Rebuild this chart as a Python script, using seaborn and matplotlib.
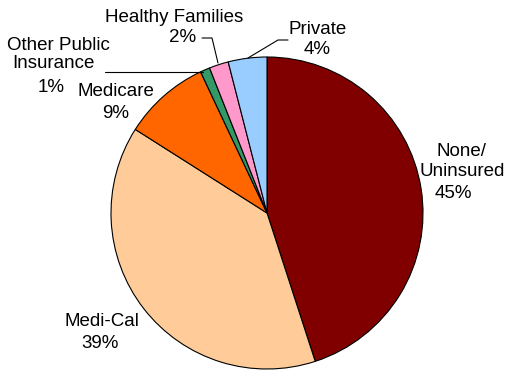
import matplotlib
matplotlib.use("Agg")
import matplotlib.pyplot as plt
import seaborn as sns

categories = ["None/\nUninsured", "Medi-Cal", "Medicare", "Other Public\nInsurance",
              "Healthy Families", "Private"]
values = [45, 39, 9, 1, 2, 4]
pct_labels = ["45%", "39%", "9%", "1%", "2%", "4%"]
colors = ["#800000", "#FFCC99", "#FF6600", "#339966", "#FF99CC", "#99CCFF"]

sns.set_style("white")
plt.rcParams['font.family'] = ['Liberation Sans', 'DejaVu Sans']

W, H = 508, 372
fig = plt.figure(figsize=(W / 100, H / 100), dpi=100)
ax = fig.add_axes([0, 0, 1, 1])
ax.set_xlim(0, W)
ax.set_ylim(0, H)
ax.set_aspect('equal')
ax.axis('off')

def Y(y):
    return H - y

palette = sns.color_palette(colors)
ax.pie(values, colors=palette, startangle=90, counterclock=False,
       center=(267, Y(213)), radius=156, frame=True,
       wedgeprops=dict(edgecolor='black', linewidth=0.8))
ax.set_xlim(0, W)
ax.set_ylim(0, H)
ax.axis('off')

fs = 13.5
kw = dict(fontsize=fs, color='black', ha='center', va='center', linespacing=1.05)

# None/Uninsured
ax.text(461, Y(151), "None/", **kw)
ax.text(462, Y(172), "Uninsured", **kw)
ax.text(453, Y(193), pct_labels[0], **kw)
# Medi-Cal
ax.text(102, Y(322), "Medi-Cal", **kw)
ax.text(100, Y(343), pct_labels[1], **kw)
# Medicare
ax.text(116, Y(92), "Medicare", **kw)
ax.text(116, Y(114), pct_labels[2], **kw)
# Other Public Insurance
ax.text(58, Y(46), "Other Public", **kw)
ax.text(53, Y(63), "Insurance", **kw)
ax.text(51, Y(88), pct_labels[3], **kw)
# Healthy Families
ax.text(174, Y(17), "Healthy Families", **kw)
ax.text(183, Y(38), pct_labels[4], **kw)
# Private
ax.text(318, Y(29), "Private", **kw)
ax.text(317, Y(49), pct_labels[5], **kw)

lk = dict(color='black', linewidth=0.8)
ax.plot([105, 203], [Y(72), Y(72)], **lk)
ax.plot([202, 212, 218], [Y(38), Y(38), Y(63)], **lk)
ax.plot([288, 278, 248], [Y(40), Y(40), Y(58)], **lk)

fig.savefig("out.png", dpi=100)
